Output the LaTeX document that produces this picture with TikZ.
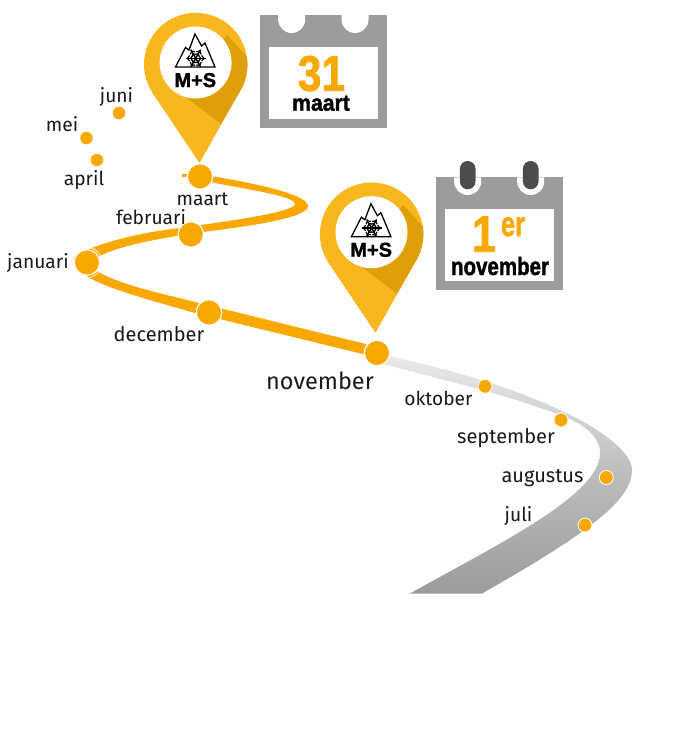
\documentclass[tikz,border=0pt]{standalone}
\usepackage{fontspec}
\setmainfont{Fira Sans}
\newfontfamily\heavyface{Liberation Sans}[BoldFeatures={FakeBold=1.6}]
\definecolor{roadorange}{HTML}{F9A800}
\definecolor{pinyellow}{HTML}{F8B71F}
\definecolor{pindark}{HTML}{DE9F0A}
\definecolor{calgrey}{HTML}{9C9C9C}
\definecolor{ringdark}{HTML}{4D4B4B}
\tikzset{
  bigdot/.style={circle,fill=roadorange,draw=white,line width=1.2pt,minimum size=25.5pt,inner sep=0pt},
  smalldot/.style={circle,fill=roadorange,draw=white,line width=.8pt,minimum size=14pt,inner sep=0pt},
  tinydot/.style={circle,fill=roadorange,minimum size=12.5pt,inner sep=0pt},
  month/.style={anchor=base,inner sep=0pt,font=\fontsize{19.2}{19.2}\selectfont,text=black!90},
  heavy/.style={anchor=base,inner sep=0pt},
  pinpic/.pic={
    \fill[pinyellow] (152.7,93.3) -- (199.5,163) -- (240.7,89.9) -- cycle;
    \fill[pinyellow] (195.7,64.5) circle[radius=51.7];
    \fill[pindark] (227,35) -- (246.9,56.5) arc[start angle=-8.9,end angle=29.4,radius=51.7] -- (221,124) -- (183,95) -- cycle;
    \fill[white] (195.6,62.5) circle[radius=36];
    \draw[black,line width=1.3pt,line join=miter] (175.5,67) -- (185.5,47.5) -- (189,50) -- (195,34) -- (201.5,46) -- (205,43) -- (215,67) -- cycle;
    \foreach \a in {0,60,120}{
      \begin{scope}[shift={(195.7,58.3)},rotate=\a]
        \draw[black,line width=1.5pt] (-10,0) -- (10,0);
        \draw[black,line width=1.2pt] (6,-2.8) -- (8.2,0) -- (6,2.8) (-6,-2.8) -- (-8.2,0) -- (-6,2.8)
          (3.4,-2.2) -- (5,0) -- (3.4,2.2) (-3.4,-2.2) -- (-5,0) -- (-3.4,2.2);
      \end{scope}
    }
    \node[anchor=base,inner sep=0pt,font=\heavyface\bfseries\fontsize{20}{20}\selectfont] (ms) at (195.3,87) {M+S};
  }
}
\begin{document}
\begin{tikzpicture}[x=1pt,y=-1pt]
\useasboundingbox (0,0) rectangle (690,742);
\fill[white] (0,0) rectangle (690,742);
% grey road
\shade[top color=black!8,bottom color=black!39,middle color=black!26]
  (377,353) .. controls (430,366) and (490,378) .. (560,410)
  .. controls (585,421) and (632,448) .. (632,470)
  .. controls (632,500) and (590,532) .. (482,593.5)
  -- (410,593.5)
  .. controls (500,543) and (600,495) .. (600,453)
  .. controls (600,430) and (570,417) .. (540,408)
  .. controls (490,390) and (430,377) .. (377,362) -- cycle;
% orange road
\fill[roadorange]
  (205,175) .. controls (260,184) and (308,195) .. (308,206)
  .. controls (308,218) and (250,226) .. (203,232)
  .. controls (160,238) and (118,246) .. (100,256)
  .. controls (95,260) and (93,266) .. (97,271)
  .. controls (120,285) and (160,293) .. (197,302.5)
  -- (380,347.5) -- (377,357.5) -- (195,313)
  .. controls (150,300) and (100,287) .. (84,274)
  .. controls (70,264) and (70,256) .. (84,251)
  .. controls (110,240) and (145,232) .. (180,228)
  .. controls (230,221) and (295,212) .. (295,204)
  .. controls (295,196) and (250,190) .. (205,181) -- cycle;
\fill[roadorange] (182,174) rectangle (187,176.5);
% dots
\node[tinydot] (juni) at (119,113) {};
\node[tinydot] (mei) at (86.5,138) {};
\node[tinydot] (april) at (97,160) {};
\draw[white,line width=.6pt] (87,262.5) circle[radius=15];
\node[bigdot] (maartdot) at (200,176.5) {};
\node[bigdot] (febdot) at (190.8,234.5) {};
\node[bigdot] (jandot) at (87,262.5) {};
\node[bigdot] (decdot) at (209,312.5) {};
\node[bigdot] (novdot) at (377,353) {};
\node[smalldot] (oktdot) at (485,386.3) {};
\node[smalldot] (sepdot) at (561,420) {};
\node[smalldot] (augdot) at (606.3,477.5) {};
\node[smalldot] (juldot) at (585,525) {};
% labels
\node[month] (ljuni) at (116.5,102) {juni};
\node[month] (lmei) at (62,131) {mei};
\node[month] (lapril) at (84,185) {april};
\node[month] (lmaart) at (202.5,205) {maart};
\node[month] (lfeb) at (151,224) {februari};
\node[month] (ljan) at (38,268) {januari};
\node[month,font=\fontsize{20}{20}\selectfont] (ldec) at (159,341.5) {december};
\node[month,font=\fontsize{23.5}{23.5}\selectfont] (lnov) at (320,389) {november};
\node[month] (lokt) at (438.5,405.5) {oktober};
\node[month,font=\fontsize{20}{20}\selectfont] (lsep) at (506,443.5) {september};
\node[month,font=\fontsize{20}{20}\selectfont] (laug) at (542.5,482.5) {augustus};
\node[month] (ljul) at (518.5,521.5) {juli};
% pins
\pic (pina) at (0,0) {pinpic};
\pic (pinb) at (175.9,169.7) {pinpic};
% calendar 31 maart
\fill[calgrey] (260,15) rectangle (386.7,128.3);
\fill[white] (278.2,15) -- (278.2,19.5) arc[start angle=180,end angle=360,radius=13.5,y radius=-13.5] -- (305.2,15) -- cycle;
\fill[white] (341.5,15) -- (341.5,19.5) arc[start angle=180,end angle=360,radius=13.5,y radius=-13.5] -- (368.5,15) -- cycle;
\fill[white] (269,47.3) rectangle (377.7,119.3);
\node[heavy,text=roadorange] (d31) at (321.5,90.7) {\heavyface\bfseries\fontsize{50}{50}\selectfont\scalebox{.85}[1]{31}};
\node[heavy] (tmaart) at (321,110.7) {\heavyface\bfseries\fontsize{23}{23}\selectfont\scalebox{.92}[1]{maart}};
% calendar 1er november
\fill[calgrey] (435.7,177.3) rectangle (562.7,290);
\fill[white] (454.2,177.3) -- (454.2,181.5) arc[start angle=180,end angle=360,radius=13.5,y radius=-13.5] -- (481.2,177.3) -- cycle;
\fill[white] (517.2,177.3) -- (517.2,181.5) arc[start angle=180,end angle=360,radius=13.5,y radius=-13.5] -- (544.2,177.3) -- cycle;
\fill[ringdark,rounded corners=7.8pt] (459.9,161) rectangle (475.5,189.3);
\fill[ringdark,rounded corners=7.8pt] (522.9,161) rectangle (538.5,189.3);
\fill[white] (445,209.3) rectangle (553.7,281);
\node[heavy,text=roadorange] (d1) at (484,251.7) {\heavyface\bfseries\fontsize{51}{51}\selectfont\scalebox{.85}[1]{1}};
\node[heavy,text=roadorange] (der) at (513,236) {\heavyface\bfseries\fontsize{35}{35}\selectfont\scalebox{.73}[1]{er}};
\node[heavy] (tnov) at (500,275) {\heavyface\bfseries\fontsize{25}{25}\selectfont\scalebox{.82}[1]{november}};
\end{tikzpicture}
\end{document}
